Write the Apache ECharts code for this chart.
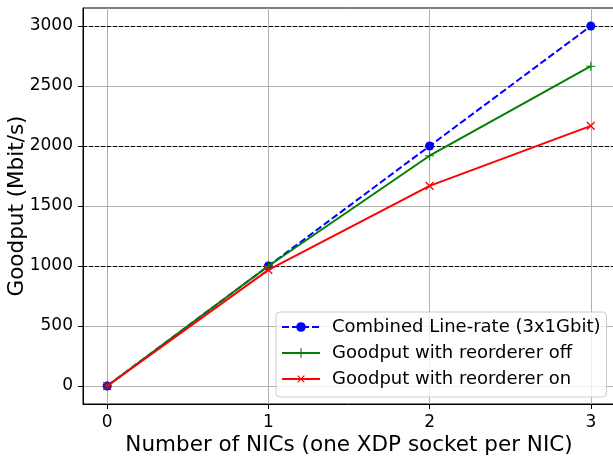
<!DOCTYPE html>
<html>
<head>
<meta charset="utf-8">
<script src="https://cdn.jsdelivr.net/npm/echarts@6/dist/echarts.min.js"></script>
<style>
html,body{margin:0;padding:0;background:#fff;}
#main{width:613px;height:457px;}
</style>
</head>
<body>
<div id="main"></div>
<script>
// ---- data ----
const nics = [0, 1, 2, 3];
const lineRate = [0, 1000, 2000, 3000];
const reorderOff = [0, 1000, 1919, 2665];
const reorderOn = [0, 968, 1668, 2168];
const refLines = [1000, 2000, 3000];
const xTickValues = [0, 1, 2, 3];
const yTickValues = [0, 500, 1000, 1500, 2000, 2500, 3000];
const seriesNames = [
  'Combined Line-rate (3x1Gbit)',
  'Goodput with reorderer off',
  'Goodput with reorderer on'
];

const FONT = 'DejaVu Sans';
const plusPath = 'path://M4.4,0H5.6V10H4.4Z M0,4.4H10V5.6H0Z';

function pairs(xs, ys) { return xs.map((x, i) => [x, ys[i]]); }

const chart = echarts.init(document.getElementById('main'), null, {renderer: 'canvas'});
chart.setOption({
  animation: false,
  backgroundColor: '#ffffff',
  grid: {
    left: 83, top: 8, width: 532, height: 396,
    containLabel: false, outerBoundsMode: 'none',
    show: true, borderColor: '#000', borderWidth: 1, backgroundColor: 'transparent'
  },
  xAxis: {
    type: 'value', min: -0.15, max: 3.15,
    name: 'Number of NICs (one XDP socket per NIC)',
    nameLocation: 'middle', nameGap: 30, nameMoveOverlap: false,
    nameTextStyle: {fontFamily: FONT, fontSize: 21.5, color: '#000'},
    axisLine: {show: true, onZero: false, lineStyle: {color: '#000', width: 1}},
    axisTick: {show: true, inside: false, length: 5, customValues: xTickValues, lineStyle: {color: '#000'}},
    axisLabel: {customValues: xTickValues, margin: 10, fontFamily: FONT, fontSize: 17, color: '#000',
      formatter: v => String(Math.round(v))},
    splitLine: {show: true, lineStyle: {color: '#b0b0b0', width: 1}}
  },
  yAxis: {
    type: 'value', min: -150, max: 3150,
    name: 'Goodput (Mbit/s)',
    nameLocation: 'middle', nameGap: 55, nameRotate: 90, nameMoveOverlap: false,
    nameTextStyle: {fontFamily: FONT, fontSize: 21.5, color: '#000'},
    axisLine: {show: true, onZero: false, lineStyle: {color: '#000', width: 1}},
    axisTick: {show: true, inside: false, length: 5, customValues: yTickValues, lineStyle: {color: '#000'}},
    axisLabel: {customValues: yTickValues, margin: 10, fontFamily: FONT, fontSize: 17, color: '#000',
      formatter: v => String(Math.round(v))},
    splitLine: {show: true, lineStyle: {color: '#b0b0b0', width: 1}}
  },
  legend: {
    left: 276, top: 312, orient: 'vertical',
    backgroundColor: 'rgba(255,255,255,0.8)',
    borderColor: '#cccccc', borderWidth: 1, borderRadius: 4,
    padding: [5, 6, 8, 5],
    itemWidth: 38, itemHeight: 12, itemGap: 6,
    textStyle: {fontFamily: FONT, fontSize: 18, color: '#000', lineHeight: 20, padding: [0, 0, 0, 7]},
    data: seriesNames
  },
  series: [
    {
      name: seriesNames[0], type: 'line', data: pairs(nics, lineRate),
      color: '#0000ff',
      lineStyle: {color: '#0000ff', width: 2, type: [7, 3]},
      symbol: 'circle', symbolSize: 9,
      itemStyle: {color: '#0000ff'},
      z: 3,
      markLine: {
        silent: true, symbol: 'none', label: {show: false},
        lineStyle: {color: '#000', width: 1, type: [4, 2]},
        data: refLines.map(v => ({yAxis: v})),
        z: 2
      }
    },
    {
      name: seriesNames[1], type: 'line', data: pairs(nics, reorderOff),
      color: '#008000',
      lineStyle: {color: '#008000', width: 2},
      symbol: plusPath, symbolSize: 9, symbolKeepAspect: true,
      itemStyle: {color: '#008000'},
      z: 4
    },
    {
      name: seriesNames[2], type: 'line', data: pairs(nics, reorderOn),
      color: '#ff0000',
      lineStyle: {color: '#ff0000', width: 2},
      symbol: plusPath, symbolSize: 11, symbolRotate: 45, symbolKeepAspect: true,
      itemStyle: {color: '#ff0000'},
      z: 5
    }
  ]
});
</script>
</body>
</html>
